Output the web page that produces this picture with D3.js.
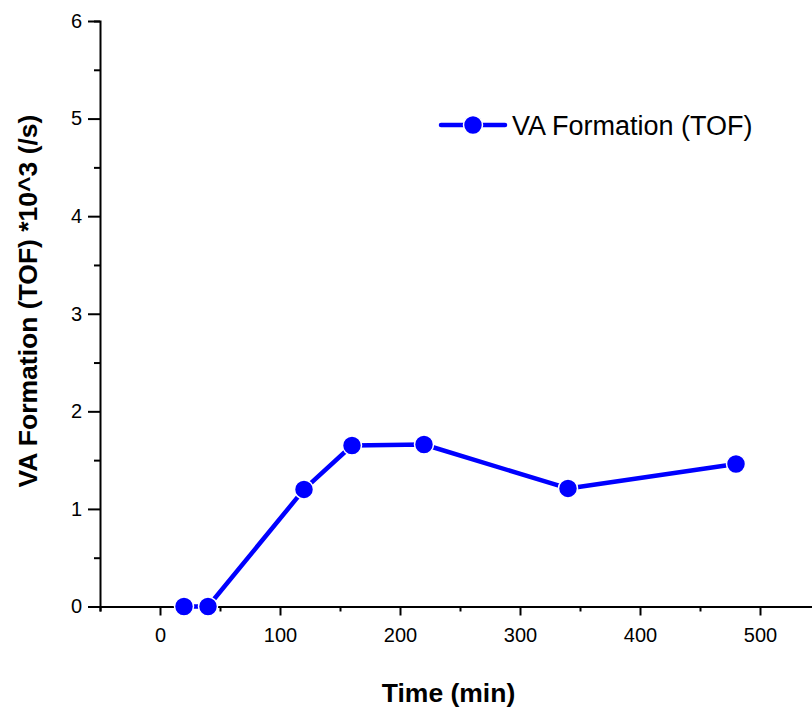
<!DOCTYPE html>
<html>
<head>
<meta charset="utf-8">
<script src="https://cdn.jsdelivr.net/npm/d3@7"></script>
<style>
  html, body { margin: 0; padding: 0; background: #fff; }
  svg { display: block; font-family: "Liberation Sans", Arial, sans-serif; }
</style>
</head>
<body>
<svg id="chart" width="812" height="710"></svg>
<script>
// VA formation turnover frequency over reaction time
const times = [20, 40, 120, 160, 220, 340, 480];
const tofValues = [0, 0, 1.2, 1.65, 1.66, 1.21, 1.46];
const xTickValues = [0, 100, 200, 300, 400, 500];
const yTickValues = [0, 1, 2, 3, 4, 5, 6];
const seriesName = "VA Formation (TOF)";
const xTitle = "Time (min)";
const yTitle = "VA Formation (TOF) *10^3 (/s)";

const svg = d3.select("#chart");
const blue = "#0000ff";

const x = d3.scaleLinear().domain([-50, 550]).range([100, 820]);
const y = d3.scaleLinear().domain([0, 6]).range([606.5, 21]);

// minor ticks halfway between majors
const xMinor = d3.range(-50, 551, 100);
const yMinor = d3.range(0.5, 6, 1);

const axisStyle = g => {
  g.select(".domain").attr("stroke", "#000").attr("stroke-width", 2);
  g.selectAll(".tick line").attr("stroke", "#000").attr("stroke-width", 2);
  g.selectAll(".tick text").attr("fill", "#000").attr("font-size", 20)
    .attr("font-family", "Liberation Sans, Arial, sans-serif");
};

// x axis: minor then major
svg.append("g").attr("transform", `translate(0,${y(0)})`)
  .call(d3.axisBottom(x).tickValues(xMinor).tickSize(5).tickFormat(""))
  .call(axisStyle);
svg.append("g").attr("transform", `translate(0,${y(0)})`)
  .call(d3.axisBottom(x).tickValues(xTickValues).tickSize(9).tickPadding(12).tickFormat(d3.format("d")))
  .call(axisStyle)
  .call(g => g.select(".domain").remove());

// y axis
svg.append("g").attr("transform", `translate(${x(-50)},0)`)
  .call(d3.axisLeft(y).tickValues(yMinor).tickSize(6).tickFormat(""))
  .call(axisStyle);
svg.append("g").attr("transform", `translate(${x(-50)},0)`)
  .call(d3.axisLeft(y).tickValues(yTickValues).tickSize(12).tickPadding(6).tickFormat(d3.format("d")))
  .call(axisStyle)
  .call(g => g.select(".domain").remove());

// axis titles
svg.append("text")
  .attr("x", 448.5).attr("y", 702)
  .attr("text-anchor", "middle")
  .attr("font-size", 26.5).attr("font-weight", "bold")
  .text(xTitle);

svg.append("text")
  .attr("transform", "translate(37,301) rotate(-90)")
  .attr("text-anchor", "middle")
  .attr("font-size", 26.5).attr("font-weight", "bold")
  .text(yTitle);

// series line and markers
const data = times.map((t, i) => ({ t, v: tofValues[i] }));
const line = d3.line().x(d => x(d.t)).y(d => y(d.v));

svg.append("path")
  .datum(data)
  .attr("d", line)
  .attr("fill", "none")
  .attr("stroke", blue)
  .attr("stroke-width", 4.5)
  .attr("stroke-linejoin", "round");

svg.append("g").selectAll("circle")
  .data(data)
  .join("circle")
  .attr("cx", d => x(d.t))
  .attr("cy", d => y(d.v))
  .attr("r", 9.5)
  .attr("fill", blue)
  .attr("stroke", "#fff")
  .attr("stroke-width", 1.5);

// legend
const legend = svg.append("g").attr("transform", "translate(441,125)");
legend.append("line")
  .attr("x1", 0).attr("x2", 64).attr("y1", 0).attr("y2", 0)
  .attr("stroke", blue).attr("stroke-width", 4.5).attr("stroke-linecap", "round");
legend.append("circle")
  .attr("cx", 32).attr("cy", 0).attr("r", 9.5)
  .attr("fill", blue).attr("stroke", "#fff").attr("stroke-width", 1.5);
legend.append("text")
  .attr("x", 71).attr("y", 9.5)
  .attr("font-size", 27)
  .text(seriesName);
</script>
</body>
</html>
